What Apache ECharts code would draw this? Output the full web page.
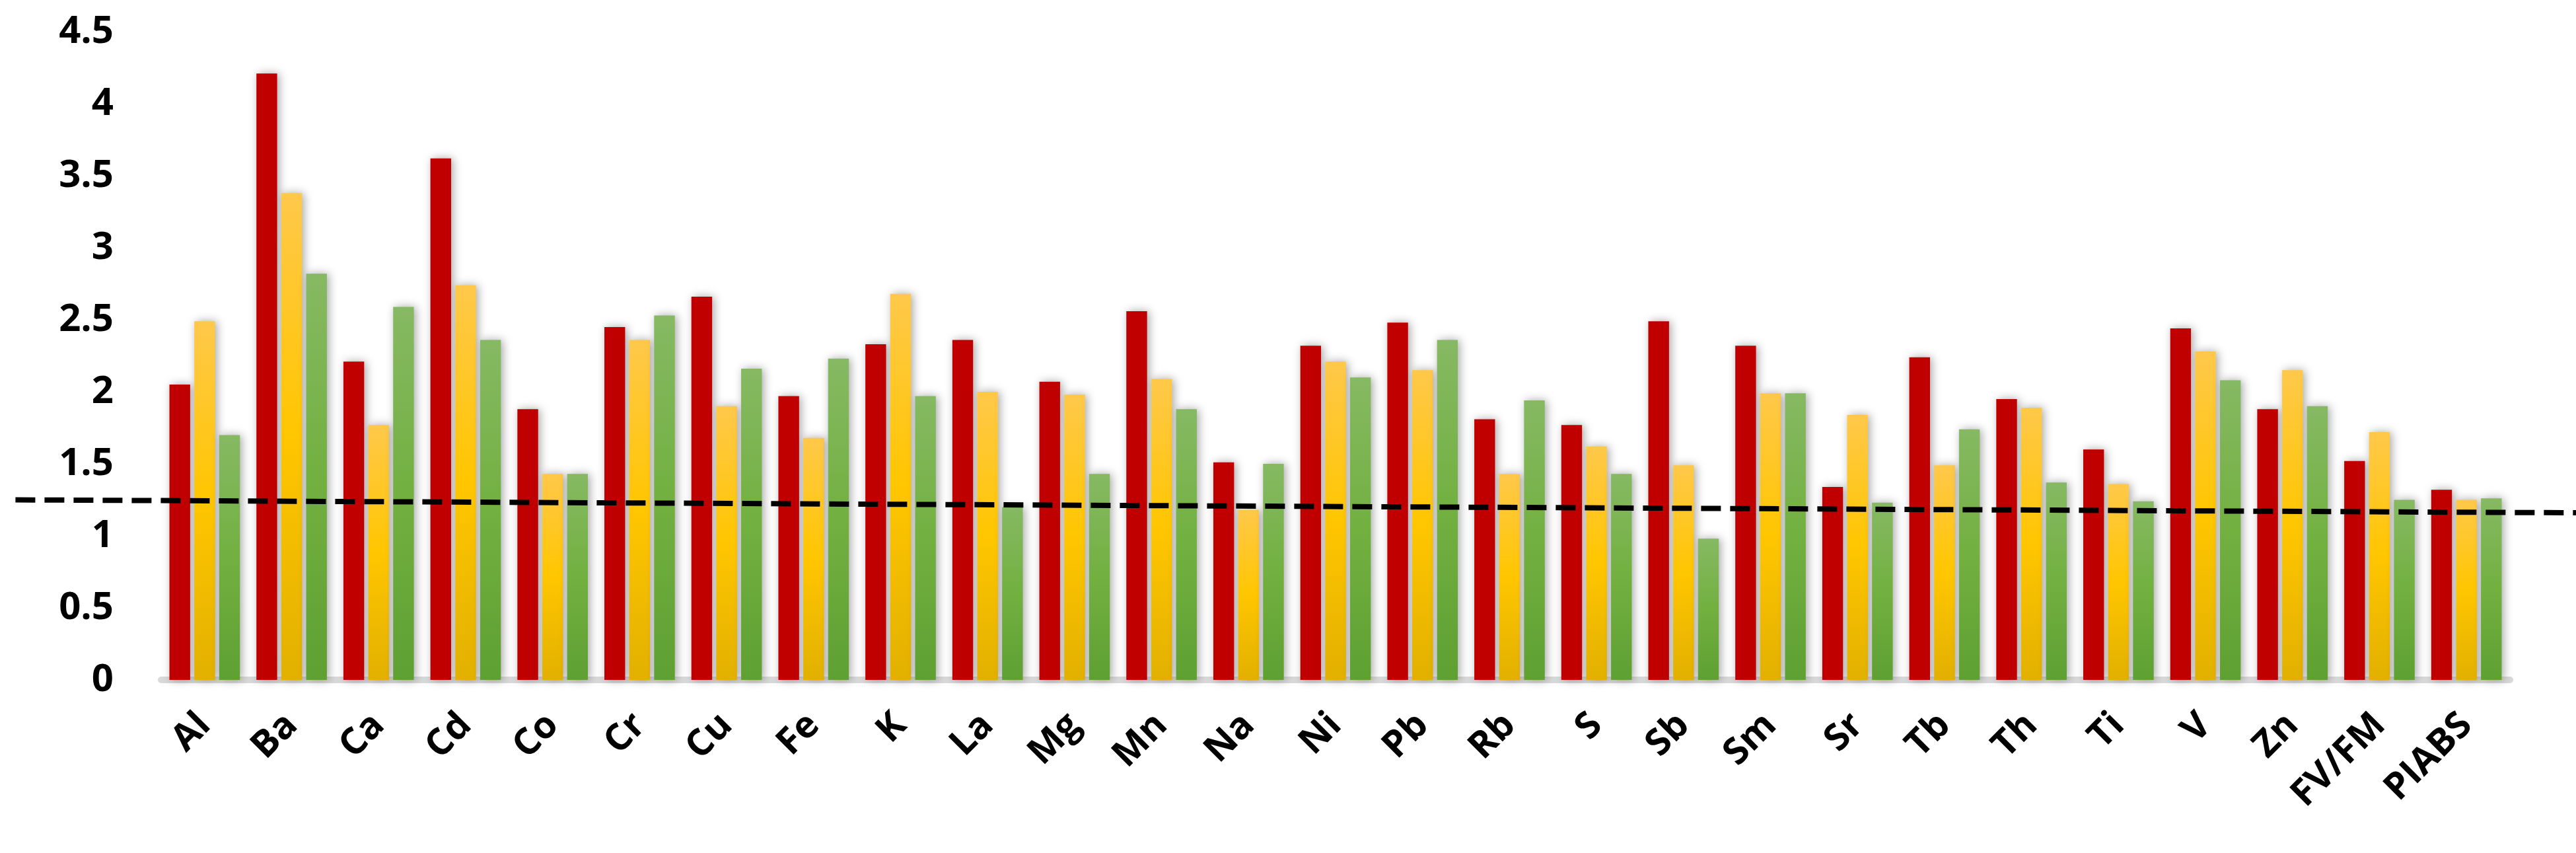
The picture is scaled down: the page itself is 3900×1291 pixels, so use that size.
<!DOCTYPE html>
<html>
<head>
<meta charset="utf-8">
<script src="https://cdn.jsdelivr.net/npm/echarts@6/dist/echarts.min.js"></script>
<style>
  html, body { margin: 0; padding: 0; background: #fff; }
  #chart { width: 3900px; height: 1291px; }
</style>
</head>
<body>
<div id="chart"></div>
<script>
// categories and series values
const categories = ['Al', 'Ba', 'Ca', 'Cd', 'Co', 'Cr', 'Cu', 'Fe', 'K', 'La', 'Mg', 'Mn', 'Na', 'Ni',
  'Pb', 'Rb', 'S', 'Sb', 'Sm', 'Sr', 'Tb', 'Th', 'Ti', 'V', 'Zn', 'FV/FM', 'PIABS'];
const redValues = [2.05, 4.21, 2.21, 3.62, 1.88, 2.45, 2.66, 1.97, 2.33, 2.36, 2.07, 2.56, 1.51, 2.32,
  2.48, 1.81, 1.77, 2.49, 2.32, 1.34, 2.24, 1.95, 1.60, 2.44, 1.88, 1.52, 1.32];
const yellowValues = [2.49, 3.38, 1.77, 2.74, 1.43, 2.36, 1.90, 1.68, 2.68, 2.00, 1.98, 2.09, 1.18, 2.21,
  2.15, 1.43, 1.62, 1.49, 1.99, 1.84, 1.49, 1.89, 1.36, 2.28, 2.15, 1.72, 1.25];
const greenValues = [1.70, 2.82, 2.59, 2.36, 1.43, 2.53, 2.16, 2.23, 1.97, 1.20, 1.43, 1.88, 1.50, 2.10,
  2.36, 1.94, 1.43, 0.98, 1.99, 1.23, 1.74, 1.37, 1.24, 2.08, 1.90, 1.25, 1.26];
// dashed reference line: [fraction of width, value]
const refLine = [[0.006, 1.25], [1, 1.16]];
const yTicks = { min: 0, max: 4.5, interval: 0.5 };

const chart = echarts.init(document.getElementById('chart'));

const barShadow = { shadowColor: 'rgba(0,0,0,0.35)', shadowBlur: 14, shadowOffsetX: 3, shadowOffsetY: 0 };

function grad(top, mid, bottom) {
  return new echarts.graphic.LinearGradient(0, 0, 0, 1, [
    { offset: 0, color: top }, { offset: 0.5, color: mid }, { offset: 1, color: bottom }
  ]);
}

const font = '"Open Sans", "DejaVu Sans", sans-serif';

chart.setOption({
  animation: false,
  grid: [
    { left: 244, right: 100, top: 48, bottom: 262 },
    { left: 0, right: 0, top: 48, bottom: 262 }
  ],
  xAxis: [
    {
      type: 'category', data: categories, gridIndex: 0,
      axisLine: { lineStyle: { color: '#d9d9d9', width: 10 } },
      axisTick: { show: false },
      axisLabel: {
        rotate: 45, margin: 60, fontSize: 56, fontWeight: 'bold', color: '#000',
        fontFamily: font, interval: 0
      }
    },
    { type: 'value', gridIndex: 1, min: 0, max: 1, show: false }
  ],
  yAxis: [
    {
      type: 'value', gridIndex: 0, min: yTicks.min, max: yTicks.max, interval: yTicks.interval,
      axisLine: { show: false }, axisTick: { show: false }, splitLine: { show: false },
      axisLabel: { fontSize: 58, fontWeight: 'bold', color: '#000', fontFamily: font, margin: 72 }
    },
    { type: 'value', gridIndex: 1, min: yTicks.min, max: yTicks.max, show: false }
  ],
  series: [
    {
      type: 'bar', data: redValues, barGap: '20%', barCategoryGap: '19%',
      itemStyle: Object.assign({ color: '#C00000' }, barShadow)
    },
    {
      type: 'bar', data: yellowValues, barGap: '20%', barCategoryGap: '19%',
      itemStyle: Object.assign({ color: grad('#FFC84A', '#FFC600', '#E2B000') }, barShadow)
    },
    {
      type: 'bar', data: greenValues, barGap: '20%', barCategoryGap: '19%',
      itemStyle: Object.assign({ color: grad('#86B963', '#72B040', '#5FA033') }, barShadow)
    },
    {
      type: 'line', xAxisIndex: 1, yAxisIndex: 1, data: refLine, symbol: 'none', z: 10,
      lineStyle: { color: '#000', width: 8, type: [30, 14] }
    }
  ]
});
</script>
</body>
</html>
